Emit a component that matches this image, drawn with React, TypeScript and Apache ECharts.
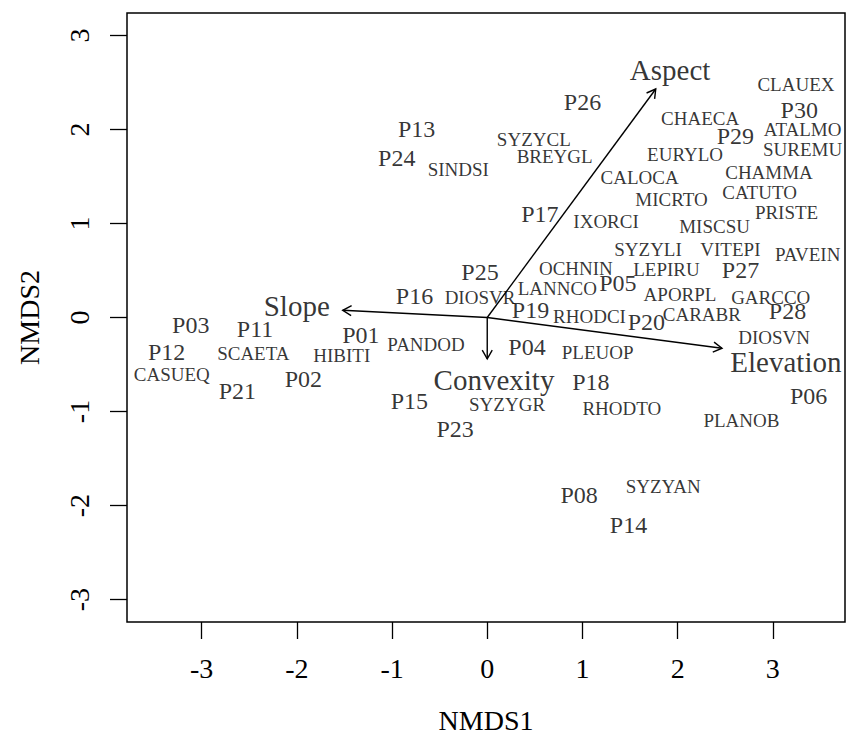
import React, { useEffect, useRef } from "react";
import * as echarts from "echarts";

const tickValues = [-3, -2, -1, 0, 1, 2, 3];

const siteNames = ["P01","P02","P03","P04","P05","P06","P08","P11","P12","P13","P14","P15","P16","P17","P18","P19","P20","P21","P23","P24","P25","P26","P27","P28","P29","P30"];
const siteX = [-1.327,-1.932,-3.114,0.418,1.372,3.376,0.965,-2.439,-3.367,-0.741,1.484,-0.818,-0.764,0.553,1.089,0.454,1.671,-2.625,-0.338,-0.951,-0.076,1.001,2.66,3.154,2.607,3.277];
const siteY = [-0.182,-0.651,-0.081,-0.314,0.367,-0.835,-1.888,-0.123,-0.362,2.004,-2.207,-0.889,0.232,1.104,-0.684,0.083,-0.052,-0.781,-1.185,1.695,0.485,2.288,0.508,0.065,1.926,2.21];

const speciesNames = ["SINDSI","SYZYCL","BREYGL","CLAUEX","CHAECA","ATALMO","EURYLO","SUREMU","CALOCA","CHAMMA","CATUTO","MICRTO","PRISTE","IXORCI","MISCSU","SYZYLI","VITEPI","PAVEIN","OCHNIN","LEPIRU","LANNCO","APORPL","GARCCO","DIOSVR","RHODCI","CARABR","DIOSVN","PANDOD","HIBITI","SCAETA","CASUEQ","PLEUOP","SYZYGR","RHODTO","PLANOB","SYZYAN"];
const speciesX = [-0.304,0.489,0.708,3.243,2.236,3.313,2.078,3.313,1.601,2.96,2.861,1.936,3.144,1.248,2.388,1.689,2.554,3.366,0.931,1.883,0.736,2.025,2.978,-0.076,1.074,2.254,3.013,-0.643,-1.528,-2.457,-3.314,1.16,0.208,1.414,2.67,1.848];
const speciesY = [1.575,1.898,1.707,2.476,2.121,2.004,1.732,1.785,1.49,1.543,1.331,1.253,1.118,1.023,0.969,0.728,0.722,0.668,0.526,0.508,0.313,0.243,0.208,0.211,0.013,0.037,-0.208,-0.288,-0.404,-0.38,-0.609,-0.374,-0.928,-0.966,-1.091,-1.793];

const envNames = ["Aspect","Slope","Elevation","Convexity"];
const envX = [1.77,-1.518,2.466,0.0];
const envY = [2.43,0.077,-0.327,-0.44];
const envLabelX = [1.921,-2.001,3.137,0.071];
const envLabelY = [2.635,0.123,-0.47,-0.665];

const FONT = "'Liberation Serif', 'Times New Roman', serif";

export default function App() {
  const ref = useRef<HTMLDivElement>(null);
  useEffect(() => {
    const chart = echarts.init(ref.current as HTMLDivElement, null, { renderer: "svg" });
    const labelSeries = (names: string[], xs: number[], ys: number[], size: number) => ({
      type: "scatter",
      silent: true,
      symbol: "circle",
      symbolSize: 1,
      itemStyle: { color: "transparent" },
      emphasis: { disabled: true },
      data: names.map((n, i) => ({ name: n, value: [xs[i], ys[i]] })),
      label: {
        show: true,
        position: "inside",
        formatter: "{b}",
        fontFamily: FONT,
        fontSize: size,
        color: "#000",
      },
    });
    const option = {
      animation: false,
      backgroundColor: "#ffffff",
      grid: {
        left: 127,
        right: 5,
        top: 13,
        bottom: 112,
        show: true,
        borderColor: "#000",
        borderWidth: 1.5,
        backgroundColor: "transparent",
      },
      xAxis: {
        type: "value",
        min: -3.784,
        max: 3.758,
        name: "NMDS1",
        nameLocation: "middle",
        nameGap: 84,
        nameTextStyle: { fontFamily: FONT, fontSize: 28, color: "#000" },
        axisLine: { show: false, onZero: false },
        splitLine: { show: false },
        axisTick: {
          show: true,
          inside: false,
          length: 17,
          customValues: tickValues,
          lineStyle: { color: "#000", width: 1.3 },
        },
        axisLabel: {
          customValues: tickValues,
          margin: 32,
          fontFamily: FONT,
          fontSize: 28,
          color: "#000",
        },
      },
      yAxis: {
        type: "value",
        min: -3.238,
        max: 3.238,
        name: "NMDS2",
        nameLocation: "middle",
        nameRotate: 90,
        nameGap: 84,
        nameTextStyle: { fontFamily: FONT, fontSize: 28, color: "#000" },
        axisLine: { show: false, onZero: false },
        splitLine: { show: false },
        axisTick: {
          show: true,
          inside: false,
          length: 17,
          customValues: tickValues,
          lineStyle: { color: "#000", width: 1.3 },
        },
        axisLabel: {
          customValues: tickValues,
          margin: 34,
          rotate: 90,
          fontFamily: FONT,
          fontSize: 28,
          color: "#000",
        },
      },
      series: [
        {
          type: "custom",
          coordinateSystem: "cartesian2d",
          silent: true,
          data: envX.map((x, i) => [x, envY[i]]),
          renderItem: (params: any, api: any) => {
            const o = api.coord([0, 0]);
            const t = api.coord([api.value(0), api.value(1)]);
            const ang = Math.atan2(t[1] - o[1], t[0] - o[0]);
            const L = 10;
            const a = Math.PI / 6;
            const h1 = [t[0] - L * Math.cos(ang - a), t[1] - L * Math.sin(ang - a)];
            const h2 = [t[0] - L * Math.cos(ang + a), t[1] - L * Math.sin(ang + a)];
            return {
              type: "group",
              children: [
                {
                  type: "line",
                  shape: { x1: o[0], y1: o[1], x2: t[0], y2: t[1] },
                  style: { stroke: "#000", lineWidth: 1.4 },
                },
                {
                  type: "polyline",
                  shape: { points: [h1, t, h2] },
                  style: { stroke: "#000", fill: "none", lineWidth: 1.4 },
                },
              ],
            };
          },
        },
        labelSeries(siteNames, siteX, siteY, 24),
        labelSeries(speciesNames, speciesX, speciesY, 19),
        labelSeries(envNames, envLabelX, envLabelY, 29),
      ],
    };
    chart.setOption(option as any);
    return () => chart.dispose();
  }, []);
  return (
    <div
      ref={ref}
      style={{ position: "fixed", left: 0, top: 0, width: 850, height: 739, background: "#fff" }}
    />
  );
}
